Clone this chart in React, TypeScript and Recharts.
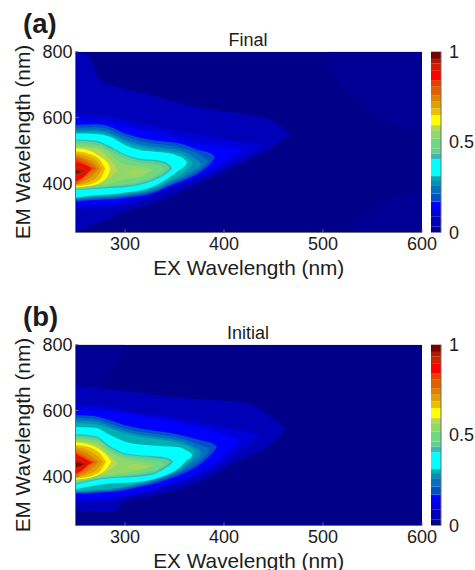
import React from 'react';
import { Area, Bar, BarChart, ComposedChart, XAxis, YAxis } from 'recharts';

const FONT = '"Liberation Sans", Arial, sans-serif';
const TEXT = '#1c1c1c';
const FRAME = '#6e6e6e';

const exTicks = [300, 400, 500, 600];
const emTicks = [400, 600, 800];
const barTicks = [0, 0.5, 1];

// colour bar, edges
const barEdges = [0, 0.032, 0.09, 0.13, 0.17, 0.216, 0.262, 0.29, 0.312, 0.406, 0.437, 0.465, 0.52, 0.566, 0.594, 0.649, 0.686, 0.723, 0.76, 0.806, 0.843, 0.898, 0.934, 0.96, 1];
const barColors = ['#000088', '#0000b8', '#0000d8', '#0000ff', '#0050c8', '#0070c0', '#0090b8', '#00b0b0', '#00ffff', '#3cb8b4', '#60d090', '#70d880', '#90d868', '#b8d850', '#ffff00', '#e8c000', '#e0a000', '#e08000', '#e06000', '#e84000', '#ff0000', '#d02000', '#b01800', '#7a0000'];
const FAINT = '#000094';
const LOBE = '#a4d85c';

// contour levels: [EX, EM low, EM high]
const plotArea = [[250, 250, 800], [600, 250, 800]];

const final1 = [[250, 250, 800], [262, 265, 790], [275, 282, 714], [300, 315, 688], [325, 338, 668], [350, 368, 648], [375, 399, 630], [400, 436, 617], [430, 480, 607], [450, 510, 587], [467, 551, 551]];
const final2 = [[250, 322, 612], [278, 325, 605], [312, 345, 585], [345, 382, 565], [379, 420, 545], [410, 465, 530], [440, 515, 515]];
const final3 = [[250, 335, 592], [278, 336, 587], [312, 353, 567], [345, 388, 540], [379, 430, 518], [400, 465, 512], [418, 505, 505]];
const final4 = [[250, 345, 577], [270, 349, 579], [285, 351, 572], [300, 356, 552], [315, 362, 538], [330, 372, 530], [345, 392, 525], [360, 410, 517], [375, 432, 500], [387, 462, 490], [391, 478, 478]];
const final5 = [[250, 348, 568], [270, 353, 570], [285, 355, 562], [300, 360, 542], [315, 366, 528], [330, 376, 520], [345, 396, 515], [360, 416, 505], [375, 440, 488], [381, 455, 475], [384, 465, 465]];
const final6 = [[250, 352, 560], [270, 357, 562], [285, 359, 553], [300, 364, 532], [315, 370, 518], [330, 381, 510], [345, 402, 505], [360, 422, 495], [370, 440, 478], [375, 450, 466], [377, 458, 458]];
const final7 = [[250, 354, 555], [270, 360, 556], [285, 362, 547], [300, 368, 525], [315, 374, 510], [330, 386, 502], [345, 408, 497], [360, 432, 485], [366, 450, 470], [369, 460, 460]];
const final8 = [[250, 356, 551], [270, 363, 550], [285, 366, 541], [300, 372, 516], [315, 378, 501], [330, 392, 496], [345, 418, 491], [355, 440, 481], [360, 450, 473], [363, 462, 462]];
const final9 = [[250, 379, 533], [270, 382, 530], [285, 385, 512], [300, 388, 488], [315, 395, 475], [330, 410, 471], [340, 425, 465], [345, 436, 456], [348, 446, 446]];
const final10 = [[250, 380, 530], [270, 385, 525], [285, 389, 506], [300, 392, 484], [315, 399, 470], [330, 415, 466], [342, 436, 456], [345, 446, 446]];
const final11 = [[250, 382, 522], [270, 388, 518], [285, 393, 498], [300, 397, 475], [315, 405, 462], [330, 422, 458], [336, 434, 452], [339, 445, 445]];
const final12 = [[250, 384, 515], [270, 392, 510], [285, 398, 490], [295, 408, 462], [305, 414, 454], [318, 422, 450], [326, 436, 444], [329, 440, 440]];
const final13 = [[250, 386, 510], [270, 395, 505], [283, 412, 478], [290, 432, 452], [293, 442, 442]];
const final14 = [[250, 388, 506], [265, 392, 498], [275, 402, 480], [283, 425, 460], [285, 445, 445]];
const final15 = [[250, 391, 497], [265, 397, 488], [275, 412, 470], [280, 445, 445]];
const final16 = [[250, 394, 490], [262, 402, 482], [272, 420, 465], [277, 445, 445]];
const final17 = [[250, 397, 485], [260, 408, 475], [268, 425, 462], [274, 445, 445]];
const final18 = [[250, 400, 480], [258, 412, 472], [265, 430, 458], [271, 445, 445]];
const final19 = [[250, 403, 475], [258, 418, 462], [264, 436, 452], [268, 445, 445]];
const final20 = [[250, 405, 465], [256, 415, 460], [262, 430, 452], [266, 445, 445]];
const final21 = [[250, 420, 452], [258, 428, 448], [263, 438, 438]];
const final22 = [[250, 425, 445], [256, 432, 442], [260, 437, 437]];
const final23 = [[250, 430, 438], [256, 434, 434]];
const finalLobe = [[300, 432, 432], [310, 424, 442], [320, 432, 436], [326, 434, 434]];
const finalFaintTop = [[505, 745, 800], [540, 640, 800], [570, 580, 800], [600, 560, 800]];
const finalFaintLow = [[530, 250, 280], [560, 250, 340], [600, 250, 380]];

const initial1 = [[250, 296, 677], [275, 292, 668], [288, 291, 662], [298, 322, 660], [325, 340, 650], [350, 358, 640], [375, 383, 634], [400, 425, 630], [416, 449, 626], [433, 472, 611], [447, 494, 581], [462, 545, 545]];
const initial2 = [[250, 322, 616], [278, 322, 612], [312, 345, 592], [345, 372, 580], [379, 408, 562], [410, 465, 545], [437, 525, 525]];
const initial3 = [[250, 335, 604], [278, 335, 600], [312, 352, 585], [346, 378, 572], [379, 418, 545], [400, 460, 530], [416, 510, 510]];
const initial4 = [[250, 347, 586], [270, 350, 582], [285, 352, 570], [300, 358, 555], [315, 368, 545], [330, 378, 538], [345, 392, 532], [360, 410, 522], [375, 435, 510], [388, 470, 500], [393, 489, 489]];
const initial5 = [[250, 350, 578], [270, 353, 574], [285, 356, 560], [300, 362, 545], [315, 372, 535], [330, 384, 528], [345, 398, 522], [360, 418, 512], [375, 445, 495], [382, 465, 488], [385, 480, 480]];
const initial6 = [[250, 352, 570], [270, 356, 566], [285, 359, 552], [300, 366, 537], [315, 376, 527], [330, 388, 520], [345, 404, 514], [360, 426, 503], [370, 448, 488], [375, 458, 480], [377, 470, 470]];
const initial7 = [[250, 354, 562], [270, 358, 558], [285, 362, 545], [300, 369, 530], [315, 379, 520], [330, 392, 513], [345, 410, 507], [360, 435, 495], [368, 455, 485], [371, 472, 472]];
const initial8 = [[250, 360, 550], [270, 372, 547], [285, 378, 525], [300, 380, 505], [325, 388, 494], [345, 408, 490], [355, 425, 488], [362, 448, 478], [366, 455, 472], [368, 464, 464]];
const initial9 = [[250, 374, 528], [270, 388, 522], [285, 394, 492], [300, 396, 470], [325, 403, 462], [340, 423, 458], [346, 435, 452], [349, 444, 444]];
const initial10 = [[250, 377, 524], [270, 391, 518], [285, 397, 487], [300, 400, 466], [325, 408, 458], [338, 425, 452], [343, 435, 450], [346, 444, 444]];
const initial11 = [[250, 380, 518], [270, 394, 512], [285, 400, 480], [300, 404, 460], [325, 414, 450], [335, 425, 446], [340, 436, 436]];
const initial12 = [[250, 384, 512], [270, 398, 505], [285, 404, 472], [300, 410, 452], [318, 420, 442], [326, 428, 438], [329, 433, 433]];
const initial13 = [[250, 388, 505], [270, 402, 498], [283, 415, 465], [293, 440, 440]];
const initial14 = [[250, 390, 503], [265, 395, 495], [275, 408, 480], [282, 425, 462], [286, 444, 444]];
const initial15 = [[250, 393, 495], [265, 400, 487], [275, 415, 468], [281, 444, 444]];
const initial16 = [[250, 396, 488], [262, 405, 480], [272, 420, 462], [278, 444, 444]];
const initial17 = [[250, 399, 482], [260, 410, 472], [268, 428, 456], [274, 444, 444]];
const initial18 = [[250, 402, 476], [258, 415, 464], [266, 435, 450], [271, 443, 443]];
const initial19 = [[250, 405, 470], [258, 420, 458], [264, 436, 448], [268, 442, 442]];
const initial20 = [[250, 408, 468], [258, 422, 455], [264, 438, 445], [267, 441, 441]];
const initial21 = [[250, 418, 455], [256, 425, 450], [262, 438, 438]];
const initial22 = [[250, 424, 448], [256, 430, 444], [260, 437, 437]];
const initial23 = [[250, 428, 442], [256, 434, 438], [258, 436, 436]];
const initialLobe = [[302, 428, 428], [310, 420, 438], [320, 428, 432], [326, 430, 430]];
const initialFaintTop = [[250, 680, 800], [275, 672, 800], [290, 730, 800], [300, 800, 800]];

const finalLevels = [plotArea, final1, final2, final3, final4, final5, final6, final7, final8, final9, final10, final11, final12, final13, final14, final15, final16, final17, final18, final19, final20, final21, final22, final23];
const initialLevels = [plotArea, initial1, initial2, initial3, initial4, initial5, initial6, initial7, initial8, initial9, initial10, initial11, initial12, initial13, initial14, initial15, initial16, initial17, initial18, initial19, initial20, initial21, initial22, initial23];

const finalBands = [
  ...finalLevels.map((rows, i) => ({ rows, color: barColors[i] })),
  { rows: finalLobe, color: LOBE },
  { rows: finalFaintTop, color: FAINT },
  { rows: finalFaintLow, color: FAINT },
];
const initialBands = [
  ...initialLevels.map((rows, i) => ({ rows, color: barColors[i] })),
  { rows: initialLobe, color: LOBE },
  { rows: initialFaintTop, color: FAINT },
];

// one row per EX value, each band holding [low, high] where it has a reading
function buildTable(bands: { rows: number[][] }[]) {
  const allEx = new Set<number>();
  bands.forEach((b) => b.rows.forEach((r) => allEx.add(r[0])));
  return [...allEx].sort((a, b) => a - b).map((ex) => {
    const row: Record<string, unknown> = { ex };
    bands.forEach((b, i) => {
      const hit = b.rows.find((r) => r[0] === ex);
      row[`b${i}`] = hit ? [hit[1], hit[2]] : null;
    });
    return row;
  });
}

const tickStyle = { fontSize: 18, fill: TEXT, fontFamily: FONT };
const frameLine = { stroke: FRAME, strokeWidth: 1 };

interface PanelProps {
  bands: { rows: number[][]; color: string }[];
  title: string;
  tag: string;
  top: number;
  height: number;
}

function Panel({ bands, title, tag, top, height }: PanelProps) {
  const table = buildTable(bands);
  const plotTop = 51.7;
  return (
    <div style={{ position: 'absolute', left: 0, top }}>
      <ComposedChart width={475} height={height} data={table} margin={{ top: plotTop, right: 53, bottom: height - 232.5 - 30, left: 35.5 }}>
        <XAxis
          dataKey="ex"
          type="number"
          domain={[250, 600]}
          ticks={exTicks}
          interval={0}
          allowDataOverflow
          height={30}
          axisLine={frameLine}
          tickLine={frameLine}
          tickSize={-3}
          tickMargin={8}
          tick={tickStyle}
          label={{ value: 'EX Wavelength (nm)', position: 'insideBottom', offset: -12, fontSize: 20.8, fill: TEXT, fontFamily: FONT }}
        />
        <XAxis xAxisId="frameTop" orientation="top" dataKey="ex" type="number" domain={[250, 600]} ticks={exTicks} interval={0} height={0} axisLine={frameLine} tickLine={frameLine} tickSize={-3} tick={() => <g />} />
        <YAxis
          type="number"
          domain={[250, 800]}
          ticks={emTicks}
          interval={0}
          allowDataOverflow
          width={40}
          axisLine={frameLine}
          tickLine={frameLine}
          tickSize={-3}
          tickMargin={6}
          tick={tickStyle}
          label={{ value: 'EM Wavelength (nm)', angle: -90, position: 'insideLeft', offset: -13, fontSize: 20.8, fill: TEXT, fontFamily: FONT, style: { textAnchor: 'middle' } }}
        />
        <YAxis yAxisId="frameRight" orientation="right" type="number" domain={[250, 800]} ticks={emTicks} interval={0} width={0} axisLine={frameLine} tickLine={frameLine} tickSize={-3} tick={() => <g />} />
        {bands.map((b, i) => (
          <Area key={i} dataKey={`b${i}`} type="monotone" connectNulls stroke="none" fill={b.color} fillOpacity={1} dot={false} activeDot={false} isAnimationActive={false} />
        ))}
        <text x={248} y={plotTop - 6} textAnchor="middle" fontSize={18} fill={TEXT} fontFamily={FONT}>{title}</text>
        <text x={23} y={plotTop - 19} fontSize={27.5} fontWeight="bold" fill={TEXT} fontFamily={FONT}>{tag}</text>
      </ComposedChart>
    </div>
  );
}

const barRow: Record<string, number> = { name: 0 };
barColors.forEach((_, i) => {
  barRow[`s${i}`] = barEdges[i + 1] - barEdges[i];
});

function ColorBar({ top }: { top: number }) {
  return (
    <div style={{ position: 'absolute', left: 0, top }}>
      <BarChart width={475} height={250} data={[barRow]} barCategoryGap={0} margin={{ top: 51.7, right: 4, bottom: 17.5, left: 431 }}>
        <XAxis dataKey="name" hide />
        <YAxis
          orientation="right"
          type="number"
          domain={[0, 1]}
          ticks={barTicks}
          interval={0}
          width={30}
          axisLine={frameLine}
          tickLine={false}
          tickMargin={2}
          tick={tickStyle}
        />
        {barColors.map((c, i) => (
          <Bar key={c} dataKey={`s${i}`} stackId="bar" fill={c} isAnimationActive={false} />
        ))}
      </BarChart>
    </div>
  );
}

export default function App() {
  return (
    <div style={{ position: 'absolute', left: 0, top: 0, width: 475, height: 570, background: '#fff' }}>
      <Panel bands={finalBands} title="Final" tag="(a)" top={0} height={285} />
      <ColorBar top={0} />
      <Panel bands={initialBands} title="Initial" tag="(b)" top={293} height={277} />
      <ColorBar top={293} />
    </div>
  );
}
